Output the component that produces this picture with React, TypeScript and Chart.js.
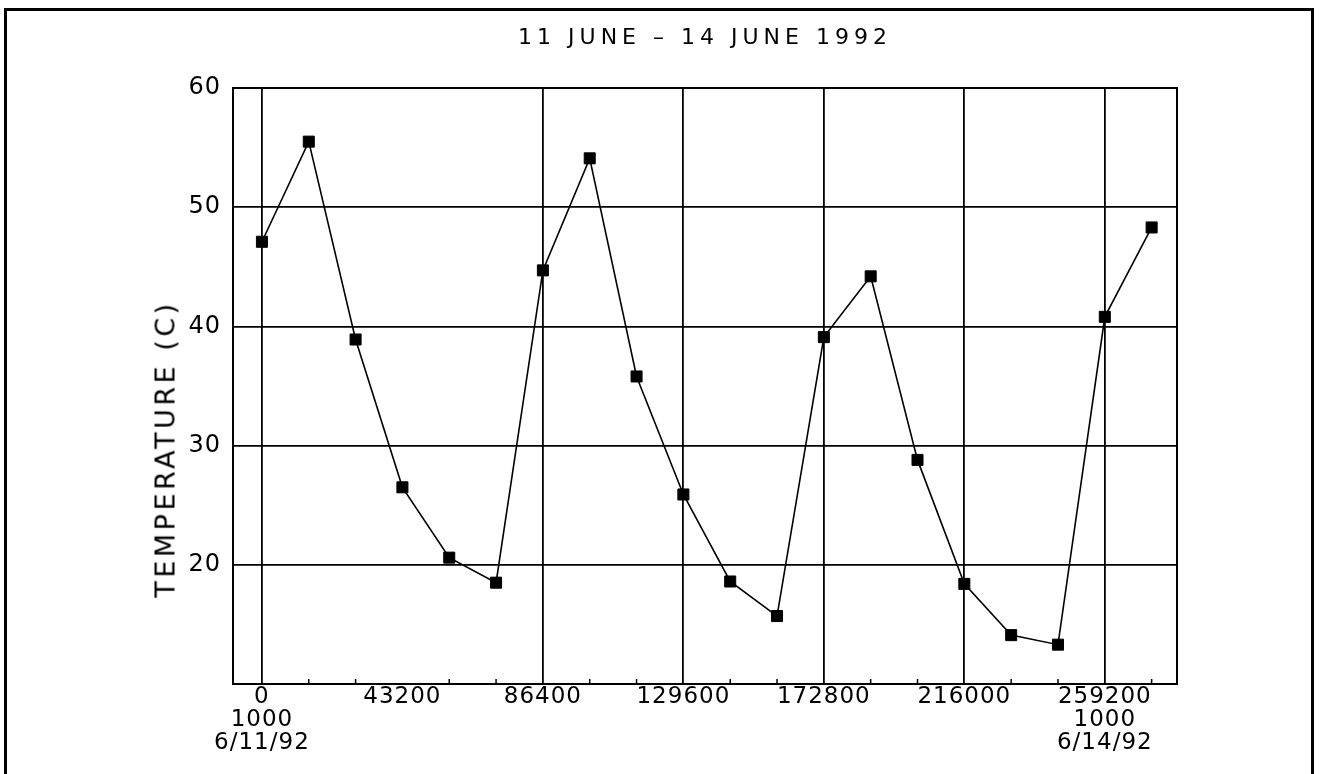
import React, { useEffect, useRef } from 'react';
import { Chart, registerables } from 'chart.js';

Chart.register(...registerables);

// ---- data ----
const TITLE = '11 JUNE – 14 JUNE 1992';
const Y_TITLE = 'TEMPERATURE (C)';

const times = [
  0, 14400, 28800, 43200, 57600, 72000, 86400, 100800, 115200, 129600,
  144000, 158400, 172800, 187200, 201600, 216000, 230400, 244800, 259200, 273600,
];
const temperatures = [
  47.1, 55.5, 38.9, 26.5, 20.6, 18.5, 44.7, 54.1, 35.8, 25.9,
  18.6, 15.7, 39.1, 44.2, 28.8, 18.4, 14.1, 13.3, 40.8, 48.3,
];

const xTickValues = [0, 43200, 86400, 129600, 172800, 216000, 259200];
const xTickLabels = [
  ['0', '1000', '6/11/92'],
  ['43200'],
  ['86400'],
  ['129600'],
  ['172800'],
  ['216000'],
  ['259200', '1000', '6/14/92'],
];
const xGridValues = [0, 86400, 129600, 172800, 216000, 259200];
const minorTickValues = [14400, 28800, 57600, 72000, 100800, 115200, 144000, 158400, 187200, 201600, 230400, 244800, 273600];

const yTickValues = [10, 20, 30, 40, 50, 60];
const yTickLabels = ['', '20', '30', '40', '50', '60'];

const FONT = '"DejaVu Sans", "Liberation Sans", sans-serif';

export default function App() {
  const ref = useRef<HTMLCanvasElement | null>(null);

  useEffect(() => {
    if (!ref.current) return;

    const decor = {
      id: 'decor',
      beforeDraw(chart: any) {
        (chart.ctx as any).letterSpacing = '1px';
      },
      afterDraw(chart: any) {
        const { ctx, chartArea: a } = chart;
        const x = chart.scales.x;
        ctx.save();
        ctx.strokeStyle = '#000';
        ctx.lineWidth = 2;
        ctx.strokeRect(a.left, a.top, a.right - a.left, a.bottom - a.top);
        ctx.lineWidth = 1.5;
        for (const v of minorTickValues) {
          const px = x.getPixelForValue(v);
          ctx.beginPath();
          ctx.moveTo(px, a.bottom);
          ctx.lineTo(px, a.bottom - 5);
          ctx.stroke();
        }
        ctx.restore();
      },
    };

    const chart = new Chart(ref.current, {
      type: 'line',
      data: {
        datasets: [
          {
            data: times.map((t, i) => ({ x: t, y: temperatures[i] })),
            borderColor: '#000',
            borderWidth: 1.6,
            backgroundColor: '#000',
            pointStyle: 'rect',
            pointRadius: 7.8,
            pointBorderWidth: 1,
            pointBackgroundColor: '#000',
            pointBorderColor: '#000',
            tension: 0,
            fill: false,
          },
        ],
      },
      options: {
        animation: false,
        responsive: false,
        devicePixelRatio: 1,
        layout: { padding: { left: 0, top: 88, right: 147, bottom: 0 } },
        plugins: {
          legend: { display: false },
          tooltip: { enabled: false },
          title: { display: false },
        },
        scales: {
          x: {
            type: 'linear',
            min: -8900,
            max: 281400,
            afterBuildTicks: (s: any) => {
              s.ticks = xTickValues.map((v) => ({ value: v }));
            },
            afterFit: (s: any) => {
              s.height = 774 - 684;
            },
            ticks: {
              autoSkip: false,
              maxRotation: 0,
              minRotation: 0,
              padding: 2,
              color: '#000',
              font: { family: FONT, size: 23, lineHeight: 1.0 },
              callback: (value: any) => {
                const i = xTickValues.indexOf(Number(value));
                return i >= 0 ? xTickLabels[i] : '';
              },
            },
            grid: {
              drawTicks: false,
              lineWidth: 1.8,
              color: (c: any) =>
                c.tick && xGridValues.includes(c.tick.value) ? '#000' : 'rgba(0,0,0,0)',
            },
            border: { display: true, color: '#000', width: 2 },
          },
          y: {
            type: 'linear',
            min: 10,
            max: 60,
            afterBuildTicks: (s: any) => {
              s.ticks = yTickValues.map((v) => ({ value: v }));
            },
            afterFit: (s: any) => {
              s.width = 233;
            },
            ticks: {
              padding: 12,
              color: '#000',
              font: { family: FONT, size: 24 },
              callback: (value: any) => {
                const i = yTickValues.indexOf(Number(value));
                return i >= 0 ? yTickLabels[i] : '';
              },
            },
            grid: { drawTicks: false, lineWidth: 1.8, color: '#000' },
            border: { display: true, color: '#000', width: 2 },
            title: { display: false },
          },
        },
      },
      plugins: [decor],
    } as any);

    return () => chart.destroy();
  }, []);

  return (
    <div>
      <div
        style={{
          position: 'fixed',
          left: 4,
          top: 8,
          width: 1310,
          height: 900,
          border: '3px solid #000',
          boxSizing: 'border-box',
        }}
      />
      <canvas
        ref={ref}
        width={1324}
        height={774}
        style={{ position: 'fixed', left: 0, top: 0, width: 1324, height: 774, display: 'block' }}
      />
      <div
        style={{
          position: 'fixed',
          left: 233,
          top: 26,
          width: 944,
          textAlign: 'center',
          fontFamily: FONT,
          fontSize: 22,
          lineHeight: '22px',
          letterSpacing: 5,
          color: '#000',
          whiteSpace: 'pre',
        }}
      >
        {TITLE}
      </div>
      <div
        style={{
          position: 'fixed',
          left: 165,
          top: 449,
          transform: 'translate(-50%, -50%) rotate(-90deg)',
          fontFamily: FONT,
          fontSize: 27,
          lineHeight: '27px',
          letterSpacing: 3.5,
          color: '#000',
          whiteSpace: 'nowrap',
        }}
      >
        {Y_TITLE}
      </div>
    </div>
  );
}
